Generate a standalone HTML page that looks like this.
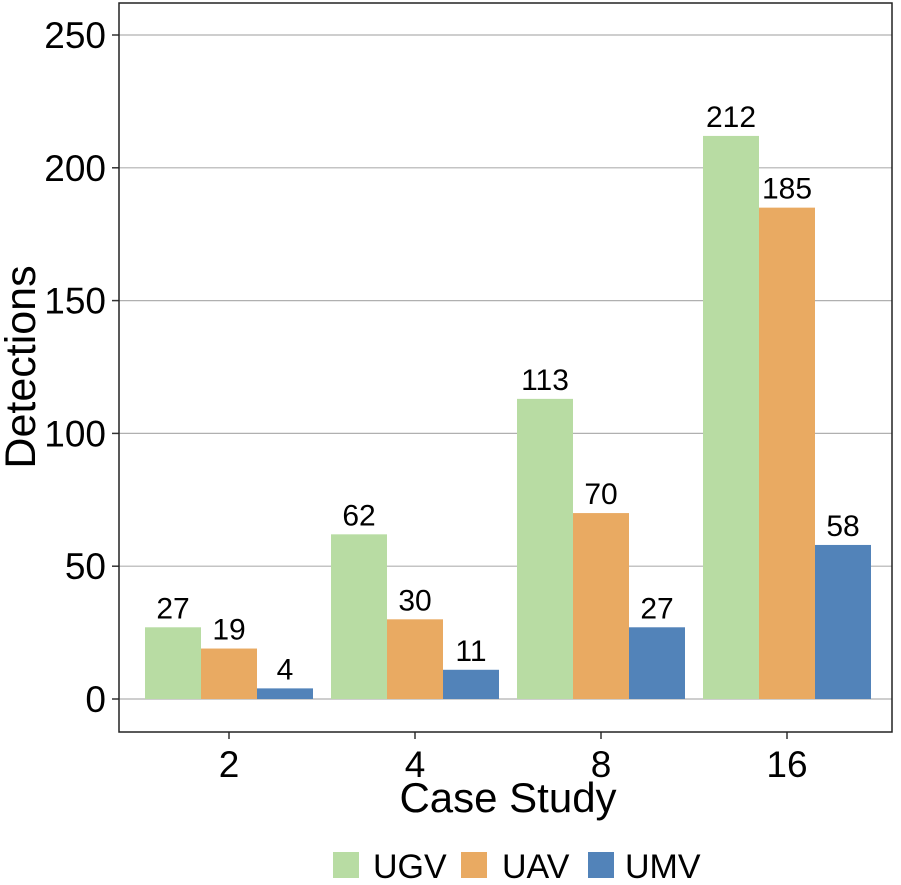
<!DOCTYPE html>
<html><head><meta charset="utf-8"><style>
body{margin:0;background:#fff;}
svg text{font-family:"Liberation Sans",sans-serif;fill:#000;}
</style></head><body>
<svg id="chart" width="901" height="880">
<g id="grid"></g><g id="bars"></g><g id="labels"></g><g id="axes"></g>
<text x="0" y="0" transform="translate(35,367) rotate(-90)" text-anchor="middle" font-size="43">Detections</text>
<text x="508" y="812" text-anchor="middle" font-size="42">Case Study</text>
<g>
<rect x="333" y="852" width="26" height="26" fill="#b8dca3"/>
<text x="373" y="878" font-size="34">UGV</text>
<rect x="461" y="852" width="26" height="26" fill="#e9aa62"/>
<text x="502" y="878" font-size="34">UAV</text>
<rect x="588" y="852" width="26" height="26" fill="#5283b9"/>
<text x="625" y="878" font-size="34">UMV</text>
</g>
</svg>
<script>
const categories = ["2","4","8","16"];
const seriesNames = ["UGV","UAV","UMV"];
const ugv = [27,62,113,212];
const uav = [19,30,70,185];
const umv = [4,11,27,58];
const yTicks = [0,50,100,150,200,250];
const colors = ["#b8dca3","#e9aa62","#5283b9"];
const NS="http://www.w3.org/2000/svg";
const L=119,R=892,T=3,B=732;
function y(v){return 699 - v*(699-35)/250;}
const step=186, x0=229, bw=56;
function xc(i){return x0+i*step;}
function mk(tag,attrs,parent){const e=document.createElementNS(NS,tag);for(const k in attrs)e.setAttribute(k,attrs[k]);parent.appendChild(e);return e;}
const grid=document.getElementById('grid'),bars=document.getElementById('bars'),labels=document.getElementById('labels'),axes=document.getElementById('axes');
yTicks.forEach(t=>{
  const g=mk('line',{x1:L,x2:R,y1:y(t),y2:y(t),stroke:'#b0b0b0','stroke-width':1.2},grid);
  
  
  const tk=mk('line',{x1:L-7,x2:L,y1:y(t),y2:y(t),stroke:'#333','stroke-width':1.5},axes);
  
  
  const tx=mk('text',{x:L-13,y:y(t)+13,'text-anchor':'end','font-size':37},axes);
  tx.textContent=t;
  
  
});
const series=[ugv,uav,umv];
categories.forEach((c,i)=>{
  series.forEach((s,j)=>{
    const bx=xc(i)-1.5*bw+j*bw;
    const r=mk('rect',{x:bx,y:y(s[i]),width:bw,height:y(0)-y(s[i]),fill:colors[j]},bars);
    
    
    const t=mk('text',{x:bx+bw/2,y:y(s[i])-9,'text-anchor':'middle','font-size':30},labels);
    t.textContent=s[i];
    
    
  });
  const tk=mk('line',{x1:xc(i),x2:xc(i),y1:B,y2:B+7,stroke:'#333','stroke-width':1.5},axes);
  
  
  const tx=mk('text',{x:xc(i),y:B+45,'text-anchor':'middle','font-size':37},axes);
  tx.textContent=c;
  
  
});
const fr=mk('rect',{x:L,y:T,width:R-L,height:B-T,fill:'none',stroke:'#222','stroke-width':1.5},axes);


</script>
</body></html>
